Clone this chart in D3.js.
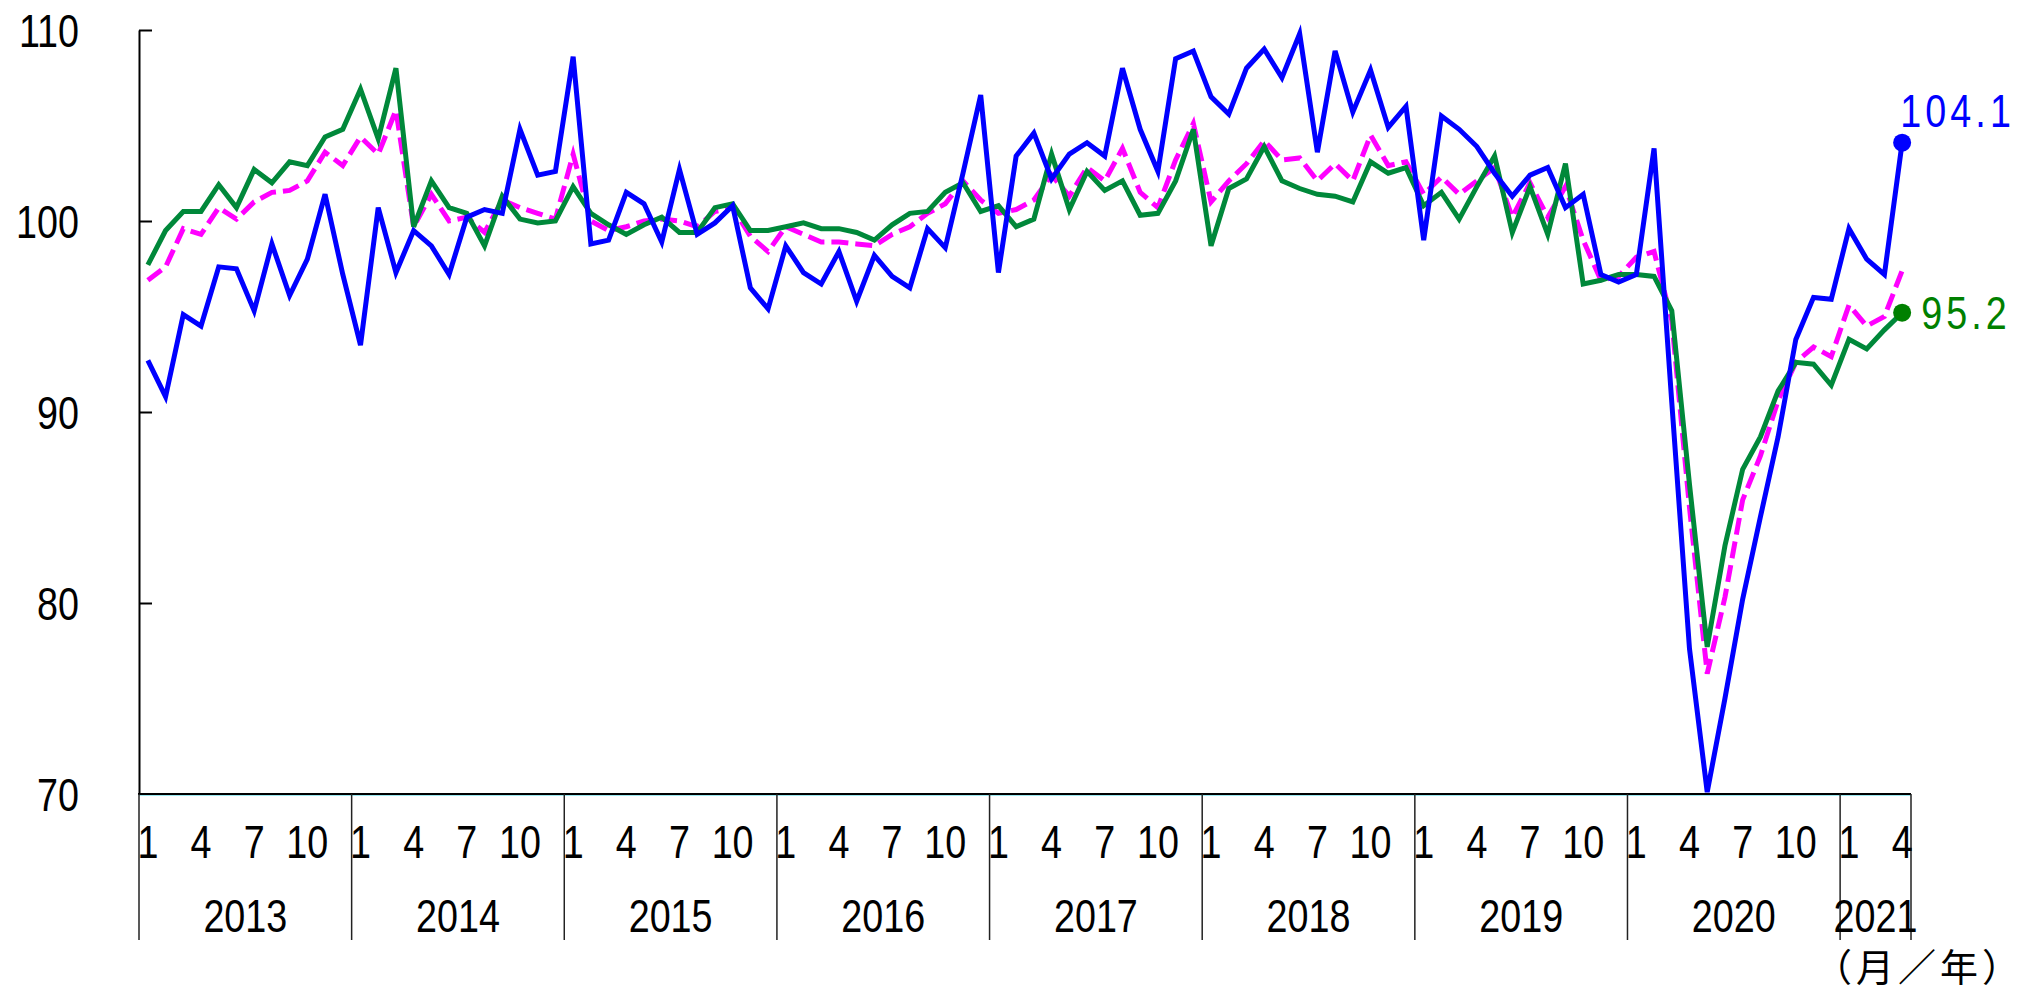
<!DOCTYPE html>
<html>
<head>
<meta charset="utf-8">
<script src="https://cdn.jsdelivr.net/npm/d3@7"></script>
<style>
  html, body { margin: 0; padding: 0; background: #fff; }
  svg { display: block; }
</style>
</head>
<body>
<div id="chart"></div>
<script>
// Monthly index series, Jan 2013 .. Apr 2021
const years = [2013, 2014, 2015, 2016, 2017, 2018, 2019, 2020, 2021];
const monthTicks = [1, 4, 7, 10];
const yTicks = [70, 80, 90, 100, 110];

const blueSeries = [
  92.7, 90.8, 95.1, 94.5, 97.6, 97.5, 95.3, 98.8, 96.1, 98.0, 101.4, 97.2,
  93.5, 100.7, 97.3, 99.5, 98.7, 97.2, 100.2, 100.6, 100.4, 104.8, 102.4, 102.6,
  108.6, 98.8, 99.0, 101.5, 100.9, 98.9, 102.7, 99.3, 99.9, 100.8, 96.5, 95.4,
  98.7, 97.3, 96.7, 98.4, 95.8, 98.2, 97.1, 96.5, 99.6, 98.6, 102.5, 106.6,
  97.3, 103.4, 104.6, 102.2, 103.5, 104.1, 103.4, 108.0, 104.8, 102.6, 108.5, 108.9,
  106.5, 105.6, 108.0, 109.0, 107.5, 109.8, 103.6, 108.9, 105.7, 107.9, 104.9, 106.0,
  99.0, 105.5, 104.8, 103.9, 102.5, 101.3, 102.4, 102.8, 100.7, 101.4, 97.2, 96.8,
  97.2, 103.8, 90.5, 77.6, 70.1, 75.0, 80.2, 84.5, 88.7, 93.8, 96.0, 95.9,
  99.6, 98.0, 97.2, 104.1
];

const greenSeries = [
  97.7, 99.5, 100.5, 100.5, 101.9, 100.7, 102.7, 102.0, 103.1, 102.9, 104.4, 104.8,
  106.9, 104.3, 108.0, 99.7, 102.1, 100.7, 100.4, 98.7, 101.3, 100.1, 99.9, 100.0,
  101.8, 100.4, 99.8, 99.3, 99.8, 100.2, 99.4, 99.4, 100.7, 100.9, 99.5, 99.5,
  99.7, 99.9, 99.6, 99.6, 99.4, 99.0, 99.8, 100.4, 100.5, 101.5, 102.0, 100.5,
  100.8, 99.7, 100.1, 103.5, 100.6, 102.6, 101.6, 102.1, 100.3, 100.4, 102.1, 104.8,
  98.7, 101.7, 102.2, 103.9, 102.1, 101.7, 101.4, 101.3, 101.0, 103.1, 102.5, 102.8,
  100.8, 101.5, 100.1, 101.8, 103.4, 99.4, 101.8, 99.3, 103.0, 96.7, 96.9, 97.2,
  97.2, 97.1, 95.3, 86.2, 77.7, 83.0, 87.0, 88.7, 91.1, 92.6, 92.5, 91.4,
  93.8, 93.3, 94.3, 95.2
];

const magentaSeries = [
  96.9, 97.6, 99.6, 99.3, 100.7, 100.1, 101.0, 101.5, 101.6, 102.1, 103.6, 102.9,
  104.4, 103.5, 105.8, 99.7, 101.4, 100.0, 100.2, 99.4, 101.1, 100.7, 100.4, 100.1,
  103.5, 100.0, 99.5, 99.7, 100.0, 100.1, 100.0, 99.7, 100.5, 100.7, 99.2, 98.4,
  99.7, 99.3, 98.9, 98.9, 98.8, 98.7, 99.3, 99.7, 100.4, 100.9, 102.1, 101.1,
  100.4, 100.6, 101.1, 102.4, 101.3, 102.8, 102.1, 103.8, 101.5, 100.7, 103.2, 105.1,
  101.0, 102.1, 103.0, 104.2, 103.2, 103.3, 102.1, 103.0, 102.1, 104.5, 102.9, 103.1,
  101.4, 102.3, 101.4, 102.1, 102.8, 100.2, 102.0, 100.2, 101.8, 99.0, 96.9, 97.1,
  98.1, 98.4, 94.8, 85.0, 76.3, 80.3, 85.4, 87.7, 90.6, 92.6, 93.4, 92.9,
  95.6, 94.5, 95.0, 97.4
];

// ---- Layout ----
const width = 2033;
const height = 995;
const plot = { left: 139, right: 1911, top: 30, bottom: 794 };
const numFont = "'Liberation Sans', Arial, sans-serif";
const numSize = 46;
const squeeze = 0.82;   // narrow the digits like the reference's gothic face

const svg = d3.select("#chart")
  .append("svg")
  .attr("width", width)
  .attr("height", height)
  .attr("viewBox", [0, 0, width, height]);

const n = blueSeries.length;
const x = d3.scaleBand()
  .domain(d3.range(n))
  .range([plot.left, plot.right])
  .padding(0);
const cx = i => x(i) + x.bandwidth() / 2;

const y = d3.scaleLinear([70, 110], [plot.bottom, plot.top]);

// place a narrowed text at (px, py)
function place(sel, px, py) {
  sel.attr("x", 0).attr("y", 0)
    .attr("transform", (d, i) => {
      const X = typeof px === "function" ? px(d, i) : px;
      const Y = typeof py === "function" ? py(d, i) : py;
      return `translate(${X},${Y}) scale(${squeeze},1)`;
    });
}

// ---- Y axis (ticks pointing inward) ----
const yAxis = d3.axisLeft(y)
  .tickValues(yTicks)
  .tickSizeInner(-13)
  .tickSizeOuter(0);

const yAxisG = svg.append("g")
  .attr("transform", `translate(${plot.left},0)`)
  .call(yAxis);

yAxisG.select(".domain").attr("stroke", "#000").attr("stroke-width", 2);
yAxisG.selectAll(".tick line").attr("stroke", "#000").attr("stroke-width", 2);
yAxisG.selectAll(".tick text")
  .attr("font-family", numFont)
  .attr("font-size", numSize)
  .attr("fill", "#000")
  .attr("dy", null)
  .attr("text-anchor", "end")
  .call(place, 79 - plot.left, 16.5);

// ---- X axis: month/year table ----
const xAxisG = svg.append("g");

xAxisG.append("line")
  .attr("x1", plot.left).attr("x2", plot.right)
  .attr("y1", plot.bottom + 1.5).attr("y2", plot.bottom + 1.5)
  .attr("stroke", "#9be8f0").attr("stroke-width", 1);

xAxisG.append("line")
  .attr("x1", plot.left - 1).attr("x2", plot.right)
  .attr("y1", plot.bottom).attr("y2", plot.bottom)
  .attr("stroke", "#000").attr("stroke-width", 2);

const yearStart = yr => (yr - years[0]) * 12;
const dividerX = years.map(yr => x(yearStart(yr))).concat([plot.right]);

xAxisG.selectAll("line.divider")
  .data(dividerX)
  .join("line")
  .attr("class", "divider")
  .attr("x1", d => d).attr("x2", d => d)
  .attr("y1", plot.bottom).attr("y2", 940)
  .attr("stroke", "#222").attr("stroke-width", 1.5);

const monthLabels = years.flatMap(yr =>
  monthTicks
    .map(m => ({ m, i: yearStart(yr) + m - 1 }))
    .filter(d => d.i < n)
);

xAxisG.selectAll("text.month")
  .data(monthLabels)
  .join("text")
  .attr("class", "month")
  .attr("text-anchor", "middle")
  .attr("font-family", numFont)
  .attr("font-size", numSize)
  .text(d => d.m)
  .call(place, d => cx(d.i), 858);

xAxisG.selectAll("text.year")
  .data(years)
  .join("text")
  .attr("class", "year")
  .attr("text-anchor", "middle")
  .attr("font-family", numFont)
  .attr("font-size", numSize)
  .text(yr => yr)
  .call(place, yr => {
    const a = x(yearStart(yr));
    const end = Math.min(yearStart(yr) + 12, n);
    const b = end >= n ? plot.right : x(end);
    return (a + b) / 2;
  }, 932);

svg.append("text")
  .attr("x", 1919)
  .attr("y", 981)
  .attr("text-anchor", "middle")
  .attr("font-family", "'Noto Sans CJK JP', sans-serif")
  .attr("font-size", 38)
  .attr("letter-spacing", 4)
  .text("（月／年）");

// ---- Lines ----
const line = d3.line()
  .x((d, i) => cx(i))
  .y(d => y(d));

const linesG = svg.append("g").attr("fill", "none");

linesG.append("path")
  .datum(magentaSeries)
  .attr("d", line)
  .attr("stroke", "#ff00ff")
  .attr("stroke-width", 5)
  .attr("stroke-dasharray", "17,7");

linesG.append("path")
  .datum(greenSeries)
  .attr("d", line)
  .attr("stroke", "#00883a")
  .attr("stroke-width", 5);

linesG.append("path")
  .datum(blueSeries)
  .attr("d", line)
  .attr("stroke", "#0000ff")
  .attr("stroke-width", 5);

// ---- End markers + labels ----
const last = n - 1;
const ends = [
  { series: blueSeries, color: "#0000ff", dx: -2, dy: -15.6 },
  { series: greenSeries, color: "#008000", dx: 19, dy: 16.5 }
];

svg.selectAll("circle.end")
  .data(ends)
  .join("circle")
  .attr("class", "end")
  .attr("cx", cx(last))
  .attr("cy", d => y(d.series[last]))
  .attr("r", 9)
  .attr("fill", d => d.color);

svg.selectAll("text.end")
  .data(ends)
  .join("text")
  .attr("class", "end")
  .attr("font-family", numFont)
  .attr("font-size", numSize)
  .attr("letter-spacing", 5)
  .attr("fill", d => d.color)
  .text(d => d.series[last].toFixed(1))
  .call(place, d => cx(last) + d.dx, d => y(d.series[last]) + d.dy);
</script>
</body>
</html>
